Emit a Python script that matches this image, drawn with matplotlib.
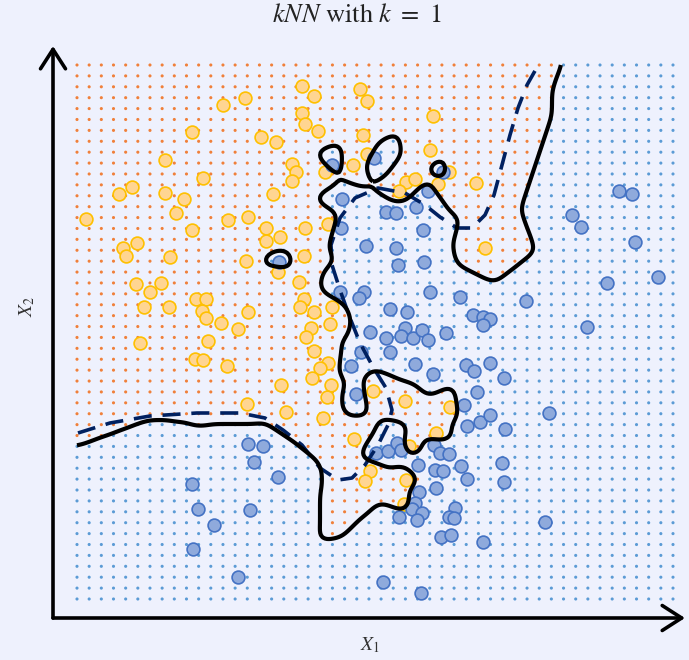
import numpy as np
import matplotlib
matplotlib.use("Agg")
import matplotlib.pyplot as plt

# ---------------- data ----------------
orange_x = [146, 168, 115, 184, 199, 88, 126, 42, 55, 88, 107, 196, 99, 9, 151, 171, 115, 189, 189, 203,
            46, 60, 225, 237, 283, 290, 225, 228, 241, 286, 356, 353, 290, 215, 219, 215, 248, 276, 329, 338,
            322, 361, 372, 399, 228, 251, 408, 49, 93, 169, 201, 59, 73, 84, 67, 92, 119, 129, 125, 129,
            144, 171, 161, 63, 131, 118, 126, 150, 204, 170, 227, 222, 227, 223, 237, 255, 234, 229, 253, 237,
            251, 243, 235, 254, 250, 209, 246, 296, 328, 373, 277, 293, 288, 332, 329, 359, 327]
orange_y = [494, 501, 467, 462, 457, 439, 421, 405, 412, 406, 400, 405, 386, 380, 379, 382, 369, 371, 358, 362,
            351, 356, 513, 503, 510, 498, 486, 475, 468, 464, 483, 449, 445, 435, 427, 418, 427, 434, 417, 420,
            408, 415, 427, 416, 371, 375, 351, 343, 342, 338, 327, 315, 307, 316, 292, 292, 300, 300, 288, 281,
            276, 287, 270, 256, 258, 240, 239, 233, 214, 195, 343, 317, 300, 292, 287, 292, 271, 262, 275, 248,
            236, 231, 221, 214, 202, 187, 181, 208, 198, 192, 160, 128, 118, 153, 119, 166, 95]

blue_x = [255, 297, 366, 265, 351, 309, 319, 339, 264, 346, 289, 319, 542, 555, 495, 504, 558, 202, 321, 347,
          263, 287, 282, 353, 383, 313, 330, 396, 293, 309, 328, 324, 336, 345, 351, 369, 284, 313, 274, 338,
          356, 389, 397, 400, 279, 387, 390, 403, 530, 581, 449, 406, 413, 406, 510, 413, 427, 413, 472, 428,
          171, 186, 177, 201, 115, 121, 173, 137, 116, 161, 299, 311, 320, 324, 341, 357, 363, 372, 358, 366,
          384, 390, 359, 342, 338, 335, 345, 340, 322, 378, 372, 377, 364, 374, 406, 306, 344, 425, 427, 468]
blue_y = [434, 441, 427, 400, 408, 387, 386, 392, 371, 369, 353, 351, 408, 405, 384, 372, 357, 337, 334, 337,
          307, 307, 301, 307, 302, 290, 287, 284, 267, 261, 271, 263, 261, 269, 259, 266, 247, 247, 233, 235,
          225, 234, 228, 207, 205, 194, 173, 177, 316, 322, 298, 282, 280, 274, 272, 236, 221, 184, 186, 170,
          155, 153, 137, 122, 115, 90, 89, 74, 50, 22, 146, 148, 156, 149, 134, 154, 146, 145, 129, 128,
          133, 120, 111, 107, 96, 90, 86, 79, 82, 91, 82, 81, 62, 64, 57, 17, 6, 136, 117, 77]

bayes_x = [1, 33, 73, 120, 163, 188, 206, 225, 243, 261, 275, 288, 301, 311, 315, 309, 296, 283, 273, 263,
           255, 254, 263, 278, 301, 328, 348, 363, 380, 395, 408, 417, 425, 433, 441, 450, 463]
bayes_y = [166, 176, 183, 186, 186, 181, 169, 154, 131, 119, 121, 134, 154, 174, 189, 211, 232, 256, 281, 309,
           334, 354, 381, 401, 411, 406, 394, 382, 371, 371, 384, 404, 434, 464, 491, 514, 537]

k_neighbors = 1
grid_n = 50
x_range = (0, 596)
y_range = (0, 534)

# ---------------- styling ----------------
bg = "#eef1fd"
plt.rcParams["mathtext.fontset"] = "stix"
plt.rcParams["font.family"] = ["STIXGeneral", "DejaVu Serif"]

px = np.array(orange_x + blue_x, float)
py = np.array(orange_y + blue_y, float)
lab = np.r_[np.ones(len(orange_x)), np.zeros(len(blue_x))]


def knn_predict(X, Y, k=k_neighbors):
    pts = np.c_[X.ravel(), Y.ravel()]
    out = np.empty(len(pts))
    step = 4000
    for i in range(0, len(pts), step):
        c = pts[i:i + step]
        d = (c[:, 0, None] - px[None, :]) ** 2 + (c[:, 1, None] - py[None, :]) ** 2
        idx = np.argsort(d, axis=1)[:, :k]
        out[i:i + step] = lab[idx].mean(axis=1)
    return out.reshape(X.shape)


def blur(Z, sigma):
    r = int(3 * sigma)
    t = np.arange(-r, r + 1)
    ker = np.exp(-t ** 2 / (2 * sigma ** 2))
    ker /= ker.sum()
    Zp = np.pad(Z, ((0, 0), (r, r)), mode="edge")
    Z1 = np.apply_along_axis(lambda v: np.convolve(v, ker, mode="valid"), 1, Zp)
    Zp = np.pad(Z1, ((r, r), (0, 0)), mode="edge")
    Z2 = np.apply_along_axis(lambda v: np.convolve(v, ker, mode="valid"), 0, Zp)
    return Z2


fig = plt.figure(figsize=(6.89, 6.6), dpi=100, facecolor=bg)
ax = fig.add_axes([53 / 689, 42 / 660, 632 / 689, 572 / 660])
ax.set_facecolor(bg)
ax.set_xlim(-24, 608)
ax.set_ylim(-19, 553)
for s in ax.spines.values():
    s.set_visible(False)
ax.set_xticks([])
ax.set_yticks([])

# background grid of predictions
gx, gy = np.meshgrid(np.linspace(*x_range, grid_n), np.linspace(*y_range, grid_n))
gp = knn_predict(gx, gy)
cols = np.where(gp.ravel() > 0.5, "#f0803a", "#5b9bd5")
ax.scatter(gx.ravel(), gy.ravel(), s=5, c=cols, linewidths=0, zorder=1)

# training points
ax.scatter(orange_x, orange_y, s=85, facecolor="#ffd592", edgecolor="#ffc000", linewidths=1.2, zorder=3)
ax.scatter(blue_x, blue_y, s=85, facecolor="#8faadc", edgecolor="#4472c4", linewidths=1.2, zorder=3)

# kNN decision boundary
fx, fy = np.meshgrid(np.arange(x_range[0], x_range[1] + 1, 2.0), np.arange(y_range[0], y_range[1] + 1, 2.0))
fp = blur(knn_predict(fx, fy), 3.0)
ax.contour(fx, fy, fp, levels=[0.5], colors="black", linewidths=3.0, zorder=5)

# Bayes decision boundary
ax.plot(bayes_x, bayes_y, color="#002060", lw=2.6, linestyle=(0, (5, 3)), zorder=4,
        solid_capstyle="butt", dash_capstyle="butt")

# axes arrows
arrow = dict(arrowstyle="->,head_length=0.7,head_width=0.45", lw=2.6, color="black",
             mutation_scale=20, shrinkA=0, shrinkB=0)
ax.annotate("", xy=(1, 0), xytext=(0, 0), xycoords="axes fraction", arrowprops=arrow)
ax.annotate("", xy=(0, 1), xytext=(0, 0), xycoords="axes fraction", arrowprops=arrow)

fig.text(357 / 689, 1 - 16 / 660, r"$kNN$ with $k\ =\ 1$", ha="center", va="center", fontsize=19,
         color="#222222")
fig.text(370 / 689, 1 - 645 / 660, r"$X_1$", ha="center", va="center", fontsize=14, color="#333333")
fig.text(27 / 689, 1 - 306 / 660, r"$X_2$", ha="center", va="center", fontsize=14, color="#333333", rotation=90)

fig.savefig("out.png", dpi=100, facecolor=bg)
